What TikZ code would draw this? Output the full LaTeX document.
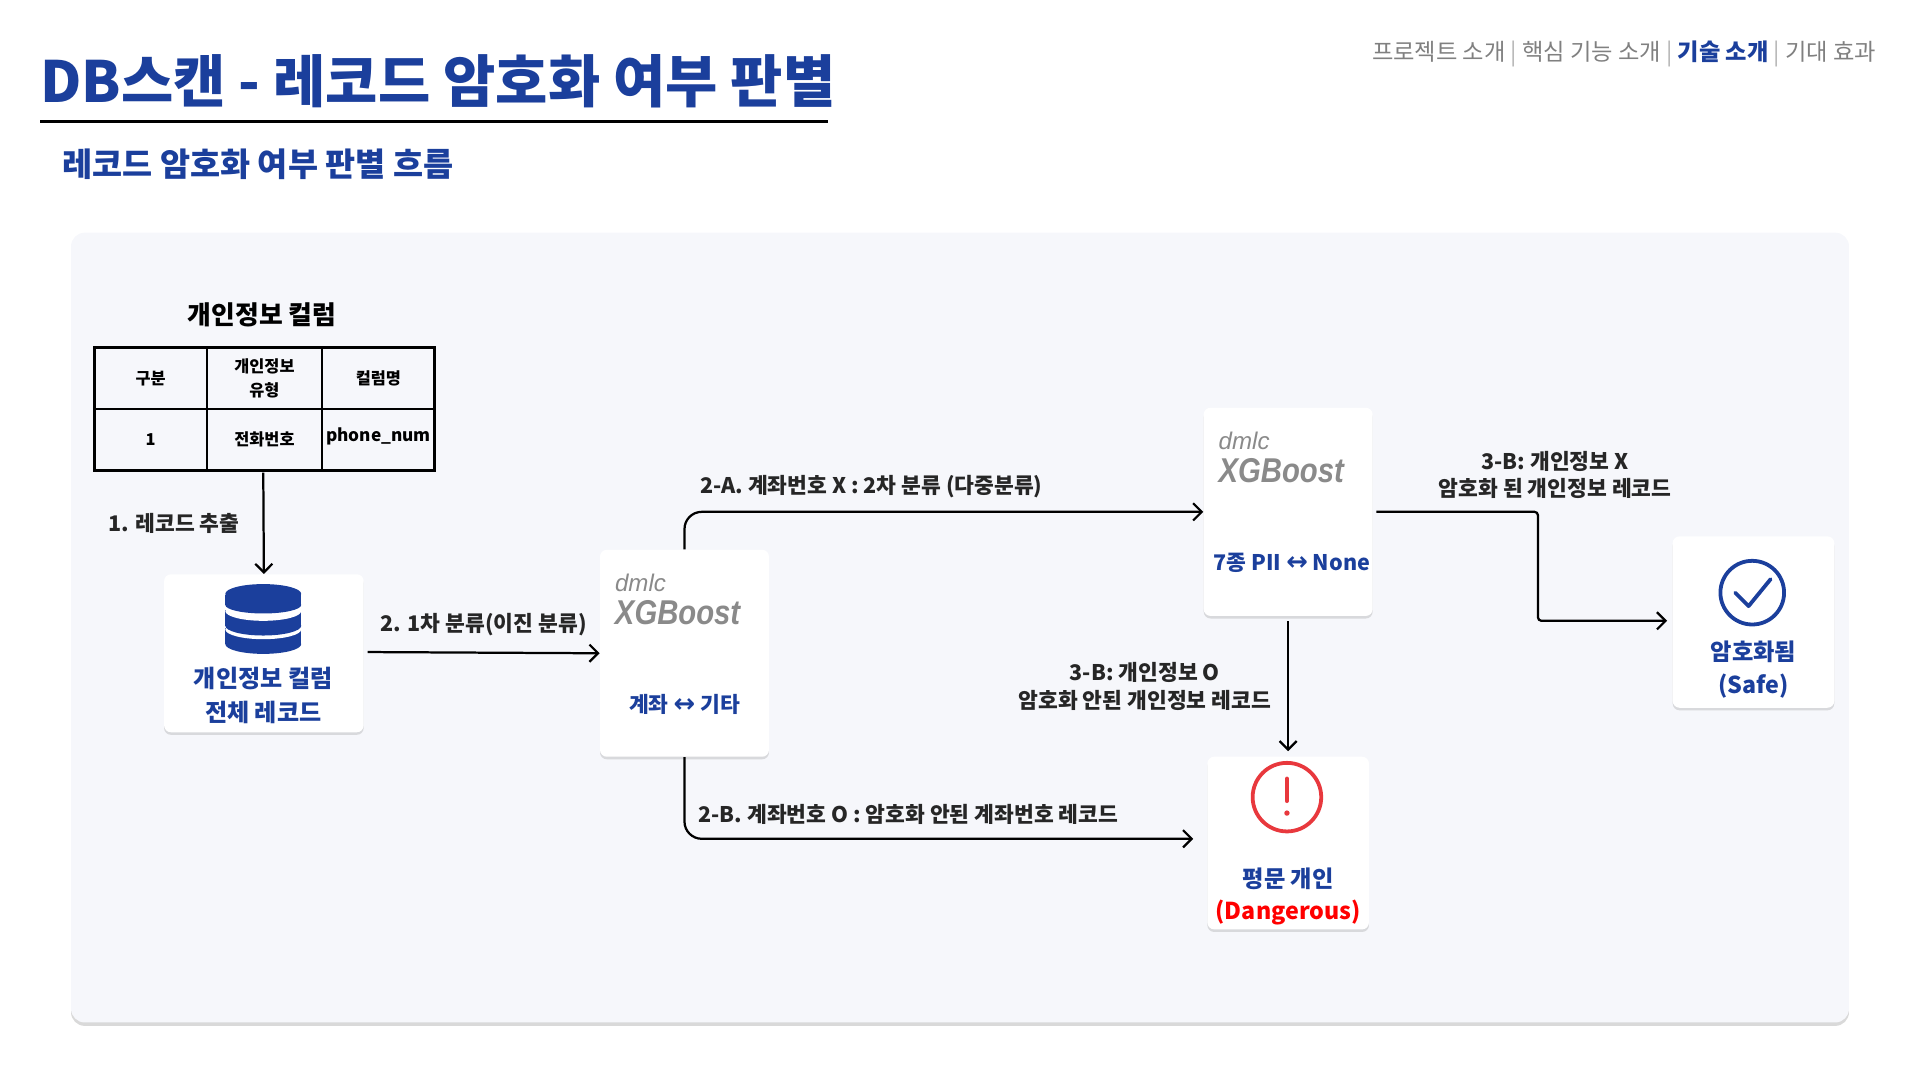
\documentclass[tikz,border=0pt]{standalone}
\usepackage{fontspec}
\setmainfont{Noto Sans CJK KR}
\newfontfamily\logofont{Liberation Sans}
\newfontfamily\symfont{DejaVu Sans}
\usetikzlibrary{arrows.meta,shadows}
\definecolor{navy}{HTML}{1B3F9C}
\definecolor{panel}{HTML}{F6F7FB}
\definecolor{dgray}{HTML}{8A8A8A}
\definecolor{alert}{HTML}{E8383D}
\tikzset{
  card/.style={draw=none, fill=white, rounded corners=4pt, drop shadow={opacity=0.25, shadow xshift=0pt, shadow yshift=-1.5pt}},
  lbl/.style={font=\fontsize{12.5}{16}\selectfont\bfseries, align=center, text=black!85},
  flow/.style={line width=1.3pt, -{Straight Barb[length=5pt,width=10pt]}, rounded corners=10pt},
  cell/.style={font=\fontsize{9.5}{11}\selectfont\bfseries, align=center},
}
\newcommand{\dblarrow}{{\symfont\fontsize{15}{15}\selectfont↔}}
\begin{document}
\begin{tikzpicture}[x=0.025cm, y=-0.025cm]
\useasboundingbox (0,0) rectangle (1568,882);
% header
\node[anchor=west, text=navy, font=\fontsize{33}{35}\selectfont\bfseries] (title) at (28,66) {DB스캔 - 레코드 암호화 여부 판별};
\draw[line width=2pt] (33,99) -- (676,99);
\node[anchor=east, font=\fontsize{13.5}{15}\selectfont, text=black!50] (nav) at (1537,44)
  {프로젝트 소개 {\color{black!30}|} 핵심 기능 소개 {\color{black!30}|} {\color{navy}\bfseries 기술 소개} {\color{black!30}|} 기대 효과};
\node[anchor=west, text=navy, font=\fontsize{19}{21}\selectfont\bfseries] (sub) at (46,134) {레코드 암호화 여부 판별 흐름};
% panel
\fill[panel, rounded corners=8pt, drop shadow={opacity=0.3, shadow xshift=0pt, shadow yshift=-2pt}] (58,190) rectangle (1510,835);
% table
\node[font=\fontsize{15}{17}\selectfont\bfseries] (tabtitle) at (214,257) {개인정보 컬럼};
\draw[line width=1.6pt] (77,284) rectangle (355,384);
\draw[line width=1.6pt] (77,334) -- (355,334);
\draw[line width=1.6pt] (169,284) -- (169,384);
\draw[line width=1.6pt] (263,284) -- (263,384);
\node[cell] (h1) at (123,309) {구분};
\node[cell, font=\fontsize{9.5}{14}\selectfont\bfseries] (h2) at (216,309) {개인정보\\유형};
\node[cell] (h3) at (309,309) {컬럼명};
\node[cell] (c1) at (123,359) {1};
\node[cell] (c2) at (216,359) {전화번호};
\node[cell, font=\fontsize{10}{11}\selectfont\bfseries] (c3) at (309,356) {phone\_num};
\coordinate (tabbot) at (215,386);
% cards
\node[card, minimum width=163*0.025cm, minimum height=129*0.025cm] (db) at (215.5,533.5) {};
\node[card, minimum width=138*0.025cm, minimum height=169*0.025cm] (bin) at (559,533.5) {};
\node[card, minimum width=138*0.025cm, minimum height=170*0.025cm] (multi) at (1052,418) {};
\node[card, minimum width=132*0.025cm, minimum height=141*0.025cm] (danger) at (1052,688.5) {};
\node[card, minimum width=132*0.025cm, minimum height=140*0.025cm] (safe) at (1432,508) {};
% db icon
\foreach \y in {513,498} {
  \fill[navy] (184,\y) rectangle (246,\y+13);
  \fill[navy] (215,\y+13) ellipse (31 and 8);
  \fill[white] (215,\y+1) ellipse (31 and 8);
}
\fill[navy] (184,486) rectangle (246,494);
\fill[navy] (215,494) ellipse (31 and 7);
\fill[navy] (215,485) ellipse (31 and 8);
\node[lbl, text=navy, font=\fontsize{14}{20}\selectfont\bfseries] (dbtxt) at (215,568) {개인정보 컬럼\\전체 레코드};
% xgboost logos
\foreach \n/\x/\y in {bin/502/476, multi/995/360} {
  \node[anchor=west, text=dgray, inner sep=0pt, font=\logofont\itshape\fontsize{14}{14}\selectfont] (\n dmlc) at (\x,\y) {dmlc};
  \node[anchor=west, text=dgray, inner sep=0pt, font=\logofont\itshape\bfseries\fontsize{20}{20}\selectfont, xscale=0.85, transform shape] (\n xgb) at (\x,\y+24) {XGBoost};
}
\node[lbl, text=navy] (bintxt) at (559,575) {계좌 \dblarrow{} 기타};
\node[lbl, text=navy] (multitxt) at (1055,460) {7종 PII \dblarrow{} None};
% alert icon
\draw[alert, line width=2.2pt] (1051,651) circle (28);
\draw[alert, line width=2.6pt, line cap=round] (1051,636) -- (1051,654);
\fill[alert] (1051,664) circle (2.2);
\node[lbl, text=navy, font=\fontsize{13.5}{19}\selectfont\bfseries] (dangertxt) at (1052,732) {평문 개인\\{\color{red}(Dangerous)}};
% check icon
\draw[navy, line width=2.2pt] (1431,484) circle (26);
\draw[navy, line width=2.2pt, line cap=round, line join=round] (1417,484) -- (1428,495) -- (1446,473);
\node[lbl, text=navy, font=\fontsize{13.5}{19}\selectfont\bfseries] (safetxt) at (1432,547) {암호화됨\\(Safe)};
% connectors
\draw[flow] (tabbot) -- (db.north) node[midway, left=10pt, lbl] {1. 레코드 추출};
\draw[flow] (db.east) ++(3,-1) -- (bin.west) node[midway, above=6pt, lbl] {2. 1차 분류(이진 분류)};
\draw[flow] (bin.north) |- (multi.west) node[pos=0.68, above=4pt, lbl] {2-A. 계좌번호 X : 2차 분류 (다중분류)};
\draw[flow] (bin.south) |- ([xshift=-8pt]danger.west |- 0,685) node[pos=0.72, above=4pt, lbl] {2-B. 계좌번호 O : 암호화 안된 계좌번호 레코드};
\draw[flow] ([yshift=-3pt]multi.south) -- ([yshift=3pt]danger.north) node[midway, left=6pt, lbl] {3-B: 개인정보 O\\암호화 안된 개인정보 레코드};
\draw[flow, rounded corners=2pt] ([xshift=2pt]multi.east) -- (1256,418) -- (1256,507) -- ([xshift=-3pt]safe.west |- 0,507);
\node[lbl] (safelbl) at (1270,388) {3-B: 개인정보 X\\암호화 된 개인정보 레코드};
\end{tikzpicture}
\end{document}
